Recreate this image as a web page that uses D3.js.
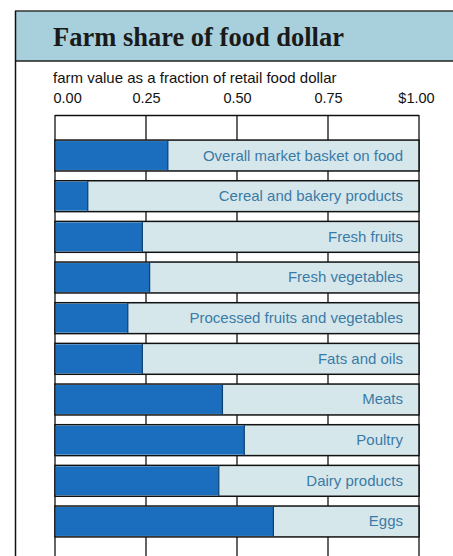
<!DOCTYPE html>
<html>
<head>
<meta charset="utf-8">
<script src="https://cdn.jsdelivr.net/npm/d3@7"></script>
<style>
  body { margin: 0; background: #fff; }
  svg { display: block; }
</style>
</head>
<body>
<div id="chart"></div>
<script>
const categories = [
  "Overall market basket on food",
  "Cereal and bakery products",
  "Fresh fruits",
  "Fresh vegetables",
  "Processed fruits and vegetables",
  "Fats and oils",
  "Meats",
  "Poultry",
  "Dairy products",
  "Eggs",
];
const farmShare = [0.31, 0.09, 0.24, 0.26, 0.2, 0.24, 0.46, 0.52, 0.45, 0.6];
const tickValues = [0, 0.25, 0.5, 0.75, 1];
const tickLabels = ["0.00", "0.25", "0.50", "0.75", "$1.00"];

const W = 453, H = 556;
const sans = "'Liberation Sans', Arial, sans-serif";
const svg = d3.select("#chart").append("svg").attr("width", W).attr("height", H);

// title banner
svg.append("rect").attr("x", 15).attr("y", 11).attr("width", W - 15).attr("height", 50)
  .attr("fill", "#a8cfdc");
svg.append("line").attr("x1", 15).attr("x2", W).attr("y1", 11).attr("y2", 11)
  .attr("stroke", "#333").attr("stroke-width", 1.5);
svg.append("line").attr("x1", 15).attr("x2", W).attr("y1", 61).attr("y2", 61)
  .attr("stroke", "#222").attr("stroke-width", 1.5);
svg.append("line").attr("x1", 15.5).attr("x2", 15.5).attr("y1", 11).attr("y2", H)
  .attr("stroke", "#111").attr("stroke-width", 1.5);
svg.append("text").attr("x", 53).attr("y", 46)
  .attr("font-family", "'Liberation Serif', 'DejaVu Serif', serif")
  .attr("font-weight", "bold").attr("font-size", 26.5).attr("fill", "#1a1a1a")
  .text("Farm share of food dollar");

svg.append("text").attr("x", 53).attr("y", 83)
  .attr("font-family", sans)
  .attr("font-size", 15).attr("fill", "#111")
  .text("farm value as a fraction of retail food dollar");

const x = d3.scaleLinear().domain([0, 1]).range([55, 419]);
const y = d3.scaleBand().domain(categories).range([136, 541]).paddingInner(0.24).paddingOuter(0.1);

// tick labels on top
const axis = svg.append("g").attr("transform", "translate(0,103)")
  .call(d3.axisTop(x).tickValues(tickValues).tickSize(0).tickPadding(0)
    .tickFormat((d, i) => tickLabels[i]));
axis.select(".domain").remove();
axis.selectAll("text")
  .attr("font-family", sans)
  .attr("font-size", 14.5).attr("fill", "#111")
  .attr("dy", 0)
  .attr("text-anchor", (d, i) => (i === 0 ? "start" : "middle"))
  .attr("dx", (d, i) => (i === 0 ? -2 : i === tickValues.length - 1 ? -3 : 0));

// grid frame
svg.append("line").attr("x1", x(0)).attr("x2", x(1)).attr("y1", 115.5).attr("y2", 115.5)
  .attr("stroke", "#111").attr("stroke-width", 1.3);
svg.selectAll(".grid").data(tickValues).enter().append("line")
  .attr("class", "grid")
  .attr("x1", (d) => x(d)).attr("x2", (d) => x(d))
  .attr("y1", 115).attr("y2", H)
  .attr("stroke", "#111").attr("stroke-width", 1.3);

const rows = svg.selectAll(".row").data(categories).enter().append("g")
  .attr("class", "row")
  .attr("transform", (d) => `translate(0,${y(d)})`);

rows.append("rect")
  .attr("x", x(0)).attr("y", 0)
  .attr("width", x(1) - x(0)).attr("height", y.bandwidth())
  .attr("fill", "#d6e7ec").attr("stroke", "#111").attr("stroke-width", 1.5);

rows.append("rect")
  .attr("x", x(0) + 1).attr("y", 1)
  .attr("width", (d, i) => x(farmShare[i]) - x(0) - 1).attr("height", y.bandwidth() - 2)
  .attr("fill", "#1b6ebd");

rows.append("line")
  .attr("x1", (d, i) => x(farmShare[i])).attr("x2", (d, i) => x(farmShare[i]))
  .attr("y1", 0).attr("y2", y.bandwidth())
  .attr("stroke", "#0d3f70").attr("stroke-width", 1.2);

rows.append("text")
  .attr("x", 403).attr("y", y.bandwidth() / 2 + 5)
  .attr("text-anchor", "end")
  .attr("font-family", sans)
  .attr("font-size", 15).attr("fill", "#3a7ba6")
  .text((d) => d);
</script>
</body>
</html>
